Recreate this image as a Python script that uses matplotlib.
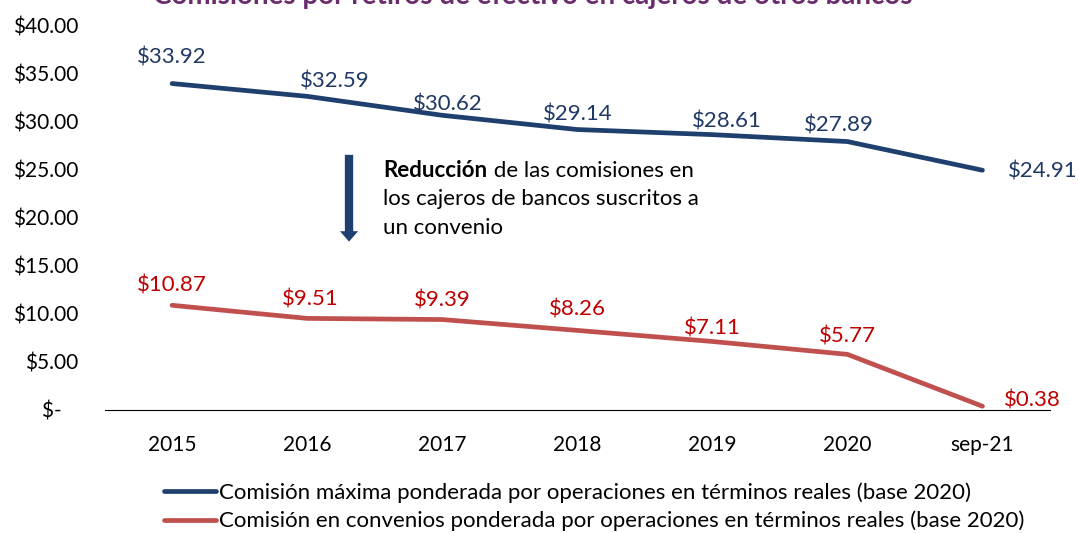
import matplotlib
matplotlib.use("Agg")
import matplotlib.pyplot as plt
from matplotlib.ticker import FuncFormatter

plt.rcParams['font.family'] = ['Lato', 'DejaVu Sans']

periods = ["2015", "2016", "2017", "2018", "2019", "2020", "sep-21"]
max_fee = [33.92, 32.59, 30.62, 29.14, 28.61, 27.89, 24.91]
conv_fee = [10.87, 9.51, 9.39, 8.26, 7.11, 5.77, 0.38]
label_max = "Comisión máxima ponderada por operaciones en términos reales (base 2020)"
label_conv = "Comisión en convenios ponderada por operaciones en términos reales (base 2020)"
title = "Comisiones por retiros de efectivo en cajeros de otros bancos"

BLUE = "#1F3F6E"; RED = "#C0504D"
BLUE_TXT = "#1F3864"; RED_TXT = "#C00000"
FS = 16

fig = plt.figure(figsize=(10.78, 5.33), dpi=100)
ax = fig.add_axes([0.097, 0.231, 0.877, 0.722])
x = list(range(len(periods)))
ax.plot(x, max_fee, color=BLUE, lw=3.4, solid_capstyle="round", label=label_max)
ax.plot(x, conv_fee, color=RED, lw=3.4, solid_capstyle="round", label=label_conv)

# label offsets in pixels (dx, dy) from each point to the label centre
off_max = [(0, 26), (28, 15), (6, 11), (0, 15), (15, 13), (-9, 16), (60, -1)]
off_conv = [(0, 20), (3, 19), (0, 19), (0, 21), (0, 13), (0, 18), (50, 6)]
for vals, offs, col in [(max_fee, off_max, BLUE_TXT), (conv_fee, off_conv, RED_TXT)]:
    for i, v in enumerate(vals):
        dx, dy = offs[i]
        ax.annotate(f"${v:.2f}", (i, v), xytext=(dx, dy), textcoords="offset pixels",
                    ha="center", va="center", color=col, fontsize=FS)

ax.set_xlim(-0.5, len(periods) - 0.5)
ax.set_ylim(0, 40)
ax.set_yticks(range(0, 41, 5))
ax.yaxis.set_major_formatter(FuncFormatter(lambda v, p: "$-   " if v == 0 else f"${v:.2f}"))
ax.set_xticks(x)
ax.set_xticklabels(periods)
for s in ["top", "right", "left"]:
    ax.spines[s].set_visible(False)
ax.spines["bottom"].set_color("black")
ax.tick_params(axis="both", length=0, labelsize=15)
ax.tick_params(axis="x", pad=18)
ax.tick_params(axis="y", pad=19)

# arrow + annotation text
ax.annotate("", xy=(1.31, 17.2), xytext=(1.31, 26.8),
            arrowprops=dict(arrowstyle="simple,head_width=1.3,head_length=0.75,tail_width=0.6",
                            color=BLUE, lw=0))
t = ax.text(1.565, 24.9, "Reducción", fontsize=FS, fontweight="bold", va="center")
ax.annotate(" de las comisiones en", xy=(1, 0), xycoords=t, va="bottom", fontsize=FS)
ax.text(1.565, 21.95, "los cajeros de bancos suscritos a", fontsize=FS, va="center")
ax.text(1.565, 18.95, "un convenio", fontsize=FS, va="center")

fig.text(0.494, 1.008, title, color="#6B2C6E", fontsize=20, fontweight="bold",
         ha="center", va="center")

fig.legend(loc="lower left", bbox_to_anchor=(0.142, -0.018), frameon=False, fontsize=FS,
           handlelength=2.35, handletextpad=0.12, labelspacing=0.35, borderaxespad=0.1)

fig.savefig("out.png", dpi=100)
